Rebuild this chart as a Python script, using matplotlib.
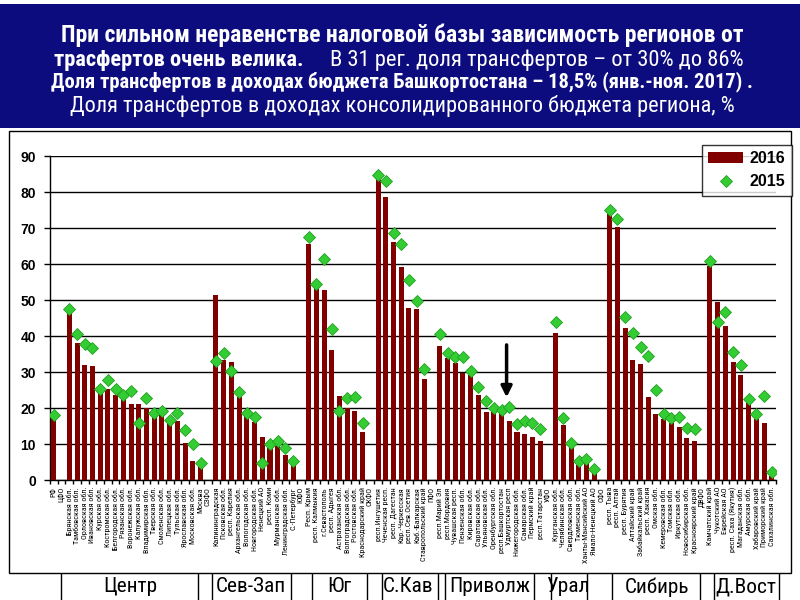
import numpy as np
import matplotlib
matplotlib.use("Agg")
import matplotlib.pyplot as plt
from matplotlib.patches import Rectangle, Patch
from matplotlib.lines import Line2D
import logging
logging.getLogger("matplotlib.font_manager").setLevel(logging.ERROR)

nan = np.nan

categories = [
    "РФ", "ЦФО",
    "Брянская обл.", "Тамбовская обл.", "Орловская обл.", "Ивановская обл.", "Курская обл.",
    "Костромская обл.", "Белгородская обл.", "Рязанская обл.", "Воронежская обл.", "Калужская обл.",
    "Владимирская обл.", "Тверская обл.", "Смоленская обл.", "Липецкая обл.", "Тульская обл.",
    "Ярославская обл.", "Московская обл.", "Москва",
    "СЗФО",
    "Калининградская", "Псковская обл.", "респ. Карелия", "Архангельская обл.", "Вологодская обл.",
    "Новгородская обл.", "Ненецкий АО", "респ. Коми", "Мурманская обл.", "Ленинградская обл.",
    "С.-Петербург",
    "ЮФО",
    "Респ. Крым", "респ. Калмыкия", "г.Севастополь", "респ. Адыгея", "Астраханская обл.",
    "Волгоградская обл.", "Ростовская обл.", "Краснодарский край",
    "СКФО",
    "респ.Ингушетия", "Чеченская респ.", "респ. Дагестан", "Кар.-Черкесская", "респ.Сев.Осетия",
    "Каб.-Балкарская", "Ставропольский край",
    "ПФО",
    "респ.Марий Эл", "респ.Мордовия", "Чувашская респ.", "Пензенская обл.", "Кировская обл.",
    "Саратовская обл.", "Ульяновская обл.", "Оренбургская обл.", "респ.Башкортостан",
    "Удмуртская респ", "Нижегородская обл.", "Самарская обл.", "Пермский край", "респ.Татарстан",
    "УФО",
    "Курганская обл.", "Челябинская обл.", "Свердловская обл.", "Тюменская обл.",
    "Ханты-Мансийский АО", "Ямало-Ненецкий АО",
    "СФО",
    "респ. Тыва", "респ. Алтай", "респ. Бурятия", "Алтайский край", "Забайкальский край",
    "респ. Хакасия", "Омская обл.", "Кемеровская обл.", "Томская обл.", "Иркутская обл.",
    "Новосибирская обл.", "Красноярский край",
    "ДВФО",
    "Камчатский край", "Чукотский АО", "Еврейская АО", "респ. Саха (Якутия)", "Магаданская обл.",
    "Амурская обл.", "Хабаровский край", "Приморский край", "Сахалинская обл.",
]

values_2016 = [
    17.1, nan,
    46.5, 38.0, 32.0, 31.7, 24.5, 25.3, 23.6, 22.7, 21.1, 21.1, 20.1, 18.5, 18.0, 15.7, 16.4, 10.2, 5.3, 3.7,
    nan,
    51.4, 33.3, 32.9, 23.1, 18.0, 16.2, 12.0, 8.8, 9.4, 6.9, 4.4,
    nan,
    65.5, 53.7, 52.8, 36.1, 23.3, 19.9, 19.2, 13.2,
    nan,
    85.9, 78.5, 66.0, 59.3, 47.7, 47.4, 28.1,
    nan,
    37.2, 34.0, 32.6, 29.8, 29.2, 23.6, 18.8, 18.8, 18.5, 16.4, 13.2, 12.8, 12.0, 10.8,
    nan,
    40.9, 15.3, 9.3, 4.2, 4.6, 1.9,
    nan,
    73.9, 70.4, 42.1, 33.3, 32.2, 23.1, 18.3, 16.9, 15.9, 14.6, 11.6, 10.8,
    nan,
    59.4, 49.4, 42.8, 32.9, 29.2, 21.3, 16.9, 15.7, 1.1,
]

values_2015 = [
    18.0, nan,
    47.5, 40.5, 37.8, 36.7, 25.4, 27.8, 25.4, 23.6, 24.8, 15.9, 22.9, 18.5, 19.3, 16.7, 18.7, 13.9, 10.0, 4.6,
    nan,
    33.1, 35.2, 30.4, 24.5, 18.7, 17.6, 4.8, 10.0, 10.8, 8.8, 5.4,
    nan,
    67.4, 54.4, 61.5, 41.9, 19.3, 22.7, 23.0, 15.7,
    nan,
    84.7, 83.1, 68.7, 65.6, 55.6, 49.8, 30.9,
    nan,
    40.5, 35.2, 34.3, 34.3, 30.4, 25.9, 22.0, 19.9, 19.4, 20.2, 15.5, 16.4, 15.7, 14.2,
    nan,
    43.8, 17.1, 10.2, 5.3, 5.8, 3.0,
    nan,
    75.0, 72.4, 45.2, 40.7, 37.0, 34.5, 25.0, 18.2, 17.3, 17.6, 14.4, 14.3,
    nan,
    60.9, 44.0, 46.6, 35.5, 31.9, 22.6, 18.2, 23.2, 2.3,
]

group_labels = ["Центр", "Сев-Зап", "Юг", "С.Кав", "Приволж", "Урал", "Сибирь", "Д.Вост"]
series_labels = ["2016", "2015"]
highlight_region = "респ.Башкортостан"

title_l1 = "При сильном неравенстве налоговой базы зависимость регионов от"
title_l2_bold = "трасфертов очень велика."
title_l2_reg = "В 31 рег. доля трансфертов – от 30% до 86%"
title_l3 = "Доля трансфертов в доходах бюджета Башкортостана – 18,5% (янв.-ноя. 2017) ."
title_l4 = "Доля трансфертов в доходах консолидированного бюджета региона, %"

NARROW = ["Roboto Condensed", "PT Sans Narrow", "Liberation Sans Narrow", "Arimo", "DejaVu Sans"]
ARIAL = ["Liberation Sans", "DejaVu Sans"]

W, H = 800, 600
fig = plt.figure(figsize=(8, 6), dpi=100)
fig.patch.set_facecolor("white")
renderer = fig.canvas.get_renderer()


def px(x, y):
    return x / W, 1 - y / H


def width_of(t):
    return t.get_window_extent(renderer=renderer).width


def fit(t, target):
    t.set_fontsize(t.get_fontsize() * target / width_of(t))


# header
fig.patches.append(Rectangle(px(0, 128), 1, 124 / H, transform=fig.transFigure,
                             facecolor="#0c0c7e", edgecolor="none", zorder=0))
# chart frame
fig.patches.append(Rectangle(px(9, 573), 782 / W, 442 / H, transform=fig.transFigure,
                             facecolor="none", edgecolor="black", lw=1.0, zorder=5))

t1 = fig.text(*px(402, 35), title_l1, color="white", fontsize=14, fontweight="bold",
              family=NARROW, ha="center", va="center")
fit(t1, 684)
t2b = fig.text(*px(54, 60), title_l2_bold, color="white", fontsize=14, fontweight="bold",
               family=NARROW, ha="left", va="center")
t2r = fig.text(*px(332, 60), title_l2_reg, color="white", fontsize=14,
               family=NARROW, ha="left", va="center")
scale = (692 - 26) / (width_of(t2b) + width_of(t2r))
for t in (t2b, t2r):
    t.set_fontsize(t.get_fontsize() * scale)
t2r.set_x((54 + width_of(t2b) + 26) / W)
t3 = fig.text(*px(402, 82), title_l3, color="white", fontsize=12, fontweight="bold",
              family=NARROW, ha="center", va="center")
fit(t3, 703)
t4 = fig.text(*px(402, 106), title_l4, color="white", fontsize=14,
              family=NARROW, ha="center", va="center")
fit(t4, 666)

ax = fig.add_axes([50 / W, 1 - 480 / H, 725.6 / W, 324 / H])
x = np.arange(len(categories))
ax.bar(x, values_2016, width=0.65, color="#800000", zorder=3)
ax.plot(x, values_2015, linestyle="none", marker="D", markersize=6,
        markerfacecolor="#33cc33", markeredgecolor="#22a022", markeredgewidth=0.6, zorder=4)

ax.set_xlim(-0.5, len(categories) - 0.5)
ax.set_ylim(0, 90)
ax.set_yticks(np.arange(0, 91, 10))
ax.yaxis.grid(True, color="black", lw=1.0, zorder=1)
ax.set_axisbelow(True)
for lab in ax.get_yticklabels():
    lab.set_fontweight("bold")
    lab.set_family(ARIAL)
ax.tick_params(axis="y", labelsize=10, length=4, width=1, pad=6)
ax.set_xticks(x)
ax.set_xticklabels(categories, rotation=90, fontsize=6, family=NARROW, va="top", ha="center")
ax.tick_params(axis="x", which="major", length=0, pad=5)
ax.set_xticks(np.arange(-0.5, len(categories), 1), minor=True)
ax.tick_params(axis="x", which="minor", length=3, width=1, direction="out")
for s in ["top", "right"]:
    ax.spines[s].set_visible(False)
ax.spines["left"].set_linewidth(1)
ax.spines["bottom"].set_linewidth(1)

# shrink the narrow rotated tick labels so that neighbours do not overlap
slot = ax.transData.transform((1, 0))[0] - ax.transData.transform((0, 0))[0]
thick = max(l.get_window_extent(renderer=renderer).width for l in ax.get_xticklabels())
fs = 6 * (slot - 0.4) / thick
for l in ax.get_xticklabels():
    l.set_fontsize(fs)

# arrow at highlighted region
hi = categories.index(highlight_region)
ax.annotate("", xy=(hi + 0.65, 22.2), xytext=(hi + 0.65, 38.3),
            arrowprops=dict(arrowstyle="-|>", lw=2.5, color="black", mutation_scale=16),
            zorder=6)

handles = [Patch(facecolor="#800000", edgecolor="none"),
           Line2D([], [], linestyle="none", marker="D", markersize=6,
                  markerfacecolor="#33cc33", markeredgecolor="#22a022", markeredgewidth=0.6)]
leg = fig.legend(handles, series_labels, loc="upper right",
                 bbox_to_anchor=px(792, 145), bbox_transform=fig.transFigure,
                 frameon=True, fancybox=False, borderaxespad=0,
                 prop=dict(family=ARIAL, weight="bold", size=11.5),
                 handlelength=2.2, handletextpad=0.4, borderpad=0.4, labelspacing=0.5)
leg.get_frame().set_edgecolor("black")
leg.get_frame().set_linewidth(1.0)

# group row
seps = [61, 198, 212, 291, 312, 367, 382, 438, 445, 534, 551, 587, 612, 700, 714, 779]
for s in seps:
    fig.add_artist(Line2D([s / W, s / W], [1 - 574 / H, 0], transform=fig.transFigure,
                          color="black", lw=1))
gx = [130, 251, 339, 408, 490, 568, 657, 746]
gtexts = [fig.text(*px(xx, 587), g, fontsize=13, family=NARROW, ha="center", va="center")
          for g, xx in zip(group_labels, gx)]
gscale = 54 / width_of(gtexts[0])
for t in gtexts:
    t.set_fontsize(t.get_fontsize() * gscale)

fig.savefig("out.png", dpi=100)
